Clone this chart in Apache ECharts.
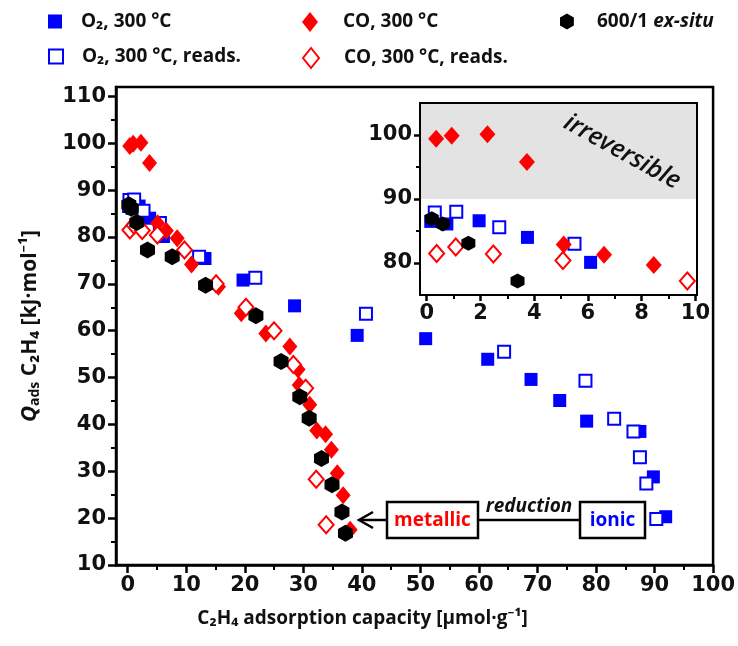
<!DOCTYPE html>
<html>
<head>
<meta charset="utf-8">
<script src="https://cdn.jsdelivr.net/npm/echarts@6/dist/echarts.min.js"></script>
<style>
html,body{margin:0;padding:0;background:#fff;}
#chart{width:738px;height:646px;}
</style>
</head>
<body>
<div id="chart"></div>
<script>
// O2, 300 °C
var o2X = [0.15, 0.75, 1.95, 3.75, 6.1, 13.2, 19.7, 28.5, 39.2, 50.9, 61.5, 68.9, 73.8, 78.4, 87.5, 89.8, 91.9];
var o2Y = [86.5, 86.1, 86.6, 84.0, 80.1, 75.4, 70.8, 65.3, 59.0, 58.3, 53.9, 49.6, 45.1, 40.7, 38.5, 28.8, 20.3];
// O2, 300 °C, reads.
var o2rX = [0.3, 1.1, 2.7, 5.5, 12.2, 21.8, 40.7, 64.3, 78.2, 83.1, 86.4, 87.5, 88.6, 90.3];
var o2rY = [87.9, 88.0, 85.6, 83.0, 75.8, 71.3, 63.6, 55.5, 49.3, 41.2, 38.5, 33.0, 27.4, 19.8];
// CO, 300 °C
var coX = [0.35, 0.93, 2.26, 3.73, 5.1, 6.6, 8.45, 10.9, 15.5, 19.4, 23.6, 27.7, 29.1, 29.3, 31.1, 32.3, 33.8, 34.8, 35.8, 36.8, 38.0];
var coY = [99.4, 99.9, 100.1, 95.8, 82.9, 81.3, 79.7, 74.1, 69.4, 63.7, 59.4, 56.6, 51.7, 48.4, 44.2, 38.7, 37.9, 34.6, 29.6, 24.9, 17.5];
// CO, 300 °C, reads.
var corX = [0.37, 1.08, 2.48, 5.07, 9.7, 15.1, 20.2, 25.0, 28.3, 30.4, 32.2, 33.9];
var corY = [81.5, 82.5, 81.4, 80.4, 77.2, 70.0, 65.0, 60.0, 52.8, 47.7, 28.3, 18.6];
// 600/1 ex-situ
var exX = [0.19, 0.6, 1.55, 3.38, 7.6, 13.3, 21.9, 26.2, 29.4, 31.0, 33.1, 34.9, 36.6, 37.2];
var exY = [86.9, 86.1, 83.1, 77.2, 75.8, 69.7, 63.2, 53.4, 45.9, 41.3, 32.7, 27.1, 21.3, 16.8];

// axes
var xTicks = [0, 10, 20, 30, 40, 50, 60, 70, 80, 90, 100];
var xMinor = [5, 15, 25, 35, 45, 55, 65, 75, 85, 95];
var yTicks = [10, 20, 30, 40, 50, 60, 70, 80, 90, 100, 110];
var yMinor = [15, 25, 35, 45, 55, 65, 75, 85, 95, 105];
var insetXTicks = [0, 2, 4, 6, 8, 10];
var insetXMinor = [1, 3, 5, 7, 9];
var insetYTicks = [80, 90, 100];
var insetYMinor = [85, 95];
var insetFloor = 76;   // points below this are not shown in the inset
var irreversibleFrom = 90;
var irreversibleTo = 105;

var NAME_O2 = 'O\u2082, 300 °C';
var NAME_O2R = 'O\u2082, 300 °C, reads.';
var NAME_CO = 'CO, 300 °C';
var NAME_COR = 'CO, 300 °C, reads.';
var NAME_EX = '600/1 ex-situ';

var BLUE = '#0000ff', RED = '#ff0000';
var HEX = 'path://M0,-1L0.866,-0.5L0.866,0.5L0,1L-0.866,0.5L-0.866,-0.5Z';
var TXT = '"Open Sans", "Noto Sans", sans-serif';
var NUM = '"DejaVu Sans", sans-serif';

function zip(xs, ys, floor){
    var out = [];
    for(var i=0;i<xs.length;i++){
        if(floor != null && ys[i] < floor) continue;
        out.push([xs[i], ys[i]]);
    }
    return out;
}

myChart = echarts.init(document.getElementById('chart'));

function tickAxis(grid, pos, min, max, major, minor, extra){
    // one axis for line + major ticks + labels, one for minor ticks
    var a = {
        gridIndex: grid, type: 'value', position: pos, min: min, max: max, z: 5,
        splitLine: {show: false},
        axisLine: {show: true, onZero: false, lineStyle: {color: '#000', width: 2.5}},
        axisTick: {show: true, customValues: major, length: extra.tick, lineStyle: {color: '#000', width: 2.5}},
        axisLabel: {show: true, customValues: major, margin: extra.margin, color: '#111',
            fontFamily: NUM, fontWeight: 'bold', fontSize: extra.fs}
    };
    var b = {
        gridIndex: grid, type: 'value', position: pos, min: min, max: max, z: 5,
        splitLine: {show: false},
        axisLine: {show: false, onZero: false},
        axisTick: {show: true, customValues: minor, length: extra.minorTick, lineStyle: {color: '#000', width: 2}},
        axisLabel: {show: false}
    };
    return [a, b];
}
function plainAxis(grid, pos, min, max){
    return {
        gridIndex: grid, type: 'value', position: pos, min: min, max: max, z: 5,
        splitLine: {show: false}, axisTick: {show: false}, axisLabel: {show: false},
        axisLine: {show: true, onZero: false, lineStyle: {color: '#000', width: 2}}
    };
}

var mainX = tickAxis(0, 'bottom', -2, 100, xTicks, xMinor, {tick: 8, minorTick: 5, margin: 10, fs: 21});
mainX[0].name = 'C\u2082H\u2084 adsorption capacity [µmol·g\u207B\u00B9]';
mainX[0].nameLocation = 'middle';
mainX[0].nameGap = 44;
mainX[0].nameTextStyle = {fontFamily: TXT, fontWeight: 'bold', fontSize: 19, color: '#111', padding: [0, 104, 0, 0]};
var mainY = tickAxis(0, 'left', 10, 112, yTicks, yMinor, {tick: 8, minorTick: 5, margin: 10, fs: 21});
mainY[0].name = '{q|Q}{s|ads} C\u2082H\u2084 [kJ·mol\u207B\u00B9]';
mainY[0].nameLocation = 'middle';
mainY[0].nameGap = 74;
mainY[0].nameTextStyle = {fontFamily: TXT, fontWeight: 'bold', fontSize: 21, color: '#111',
    rich: {
        q: {fontFamily: TXT, fontWeight: 'bold', fontStyle: 'italic', fontSize: 22, color: '#111'},
        s: {fontFamily: TXT, fontWeight: 'bold', fontSize: 14, color: '#111', verticalAlign: 'bottom', padding: [10, 0, 0, 0]}
    }};

var insetX = tickAxis(1, 'bottom', -0.25, 10.06, insetXTicks, insetXMinor, {tick: 6, minorTick: 4, margin: 8, fs: 21});
var insetY = tickAxis(1, 'left', 75, 105, insetYTicks, insetYMinor, {tick: 6, minorTick: 4, margin: 8, fs: 21});
insetX[0].axisLine.lineStyle.width = 2;
insetY[0].axisLine.lineStyle.width = 2;

var xAxes = [mainX[0], mainX[1], insetX[0], insetX[1], plainAxis(1, 'top', -0.25, 10.06)];
var yAxes = [mainY[0], mainY[1], insetY[0], insetY[1], plainAxis(1, 'right', 75, 105)];

function scatter(name, xs, ys, inset, sym, size, filled, color){
    return {
        name: name, type: 'scatter',
        xAxisIndex: inset ? 2 : 0, yAxisIndex: inset ? 2 : 0,
        data: zip(xs, ys, inset ? insetFloor : null), symbol: sym, symbolSize: size,
        clip: true,
        itemStyle: filled ? {color: color, opacity: 1} :
            {color: '#fff', borderColor: color, borderWidth: 2, opacity: 1},
        emphasis: {disabled: true}
    };
}

var series = [];
[false, true].forEach(function(inset){
    series.push(scatter(NAME_O2, o2X, o2Y, inset, 'rect', 13, true, BLUE));
    series.push(scatter(NAME_O2R, o2rX, o2rY, inset, 'rect', 12, false, BLUE));
    series.push(scatter(NAME_CO, coX, coY, inset, 'diamond', inset ? [16, 18] : [15, 18], true, RED));
    series.push(scatter(NAME_COR, corX, corY, inset, 'diamond', [15, 17], false, RED));
    series.push(scatter(NAME_EX, exX, exY, inset, HEX, inset ? [14, 15] : [15, 17], true, '#000'));
});
// grey band of the inset
series[5].markArea = {
    silent: true,
    itemStyle: {color: '#e3e3e3', opacity: 1},
    data: [[{yAxis: irreversibleFrom}, {yAxis: irreversibleTo}]]
};

function legendAt(name, left, top, pad, w, h){
    return {
        data: [name], left: left, top: top, itemWidth: w, itemHeight: h,
        selectedMode: false,
        formatter: function(n){ return n === NAME_EX ? '600/1 {i|ex-situ}' : n; },
        textStyle: {fontFamily: TXT, fontWeight: 'bold', fontSize: 19, color: '#111', padding: [0, 0, 0, pad],
            rich: {i: {fontFamily: TXT, fontWeight: 'bold', fontStyle: 'italic', fontSize: 19, color: '#111'}}}
    };
}

var option = {
    animation: false,
    backgroundColor: '#fff',
    grid: [
        {left: 116, top: 87, width: 600, height: 478, show: true, borderColor: '#000', borderWidth: 2.5, backgroundColor: 'transparent'},
        {left: 420, top: 103, width: 277, height: 192, show: true, borderColor: '#000', borderWidth: 0, backgroundColor: '#fff'}
    ],
    legend: [
        legendAt(NAME_O2, 43, 7, 14, 14, 14),
        legendAt(NAME_CO, 297, 7, 20, 16, 20),
        legendAt(NAME_EX, 555, 7, 18, 14, 16),
        legendAt(NAME_O2R, 43, 42, 14, 14, 14),
        legendAt(NAME_COR, 297, 42, 20, 16, 20)
    ],
    xAxis: xAxes,
    yAxis: yAxes,
    series: series,
    graphic: [
        {type: 'text', x: 622, y: 152, rotation: -29 * Math.PI / 180, z: 50,
            style: {text: 'irreversible', fontFamily: TXT, fontStyle: 'italic', fontWeight: 600, fontSize: 25,
                fill: '#111', align: 'center', verticalAlign: 'middle'}},
        {type: 'polyline', z: 50, shape: {points: [[387, 520], [360, 520]]}, style: {stroke: '#000', lineWidth: 2.5}},
        {type: 'polyline', z: 50, shape: {points: [[373, 512], [359, 520], [373, 528]]}, style: {stroke: '#000', lineWidth: 2.5, fill: null}},
        {type: 'rect', z: 50, shape: {x: 387, y: 502, width: 91, height: 36}, style: {fill: '#fff', stroke: '#000', lineWidth: 2.5}},
        {type: 'text', z: 51, x: 432.5, y: 521, style: {text: 'metallic', fontFamily: TXT, fontWeight: 'bold', fontSize: 19,
            fill: RED, align: 'center', verticalAlign: 'middle'}},
        {type: 'polyline', z: 50, shape: {points: [[478, 520], [580, 520]]}, style: {stroke: '#000', lineWidth: 2.5}},
        {type: 'text', z: 51, x: 529, y: 507, style: {text: 'reduction', fontFamily: TXT, fontWeight: 'bold', fontStyle: 'italic', fontSize: 19,
            fill: '#111', align: 'center', verticalAlign: 'middle'}},
        {type: 'rect', z: 50, shape: {x: 580, y: 502, width: 65, height: 36}, style: {fill: '#fff', stroke: '#000', lineWidth: 2.5}},
        {type: 'text', z: 51, x: 612.5, y: 521, style: {text: 'ionic', fontFamily: TXT, fontWeight: 'bold', fontSize: 19,
            fill: BLUE, align: 'center', verticalAlign: 'middle'}}
    ]
};
myChart.setOption(option);
</script>
</body>
</html>
